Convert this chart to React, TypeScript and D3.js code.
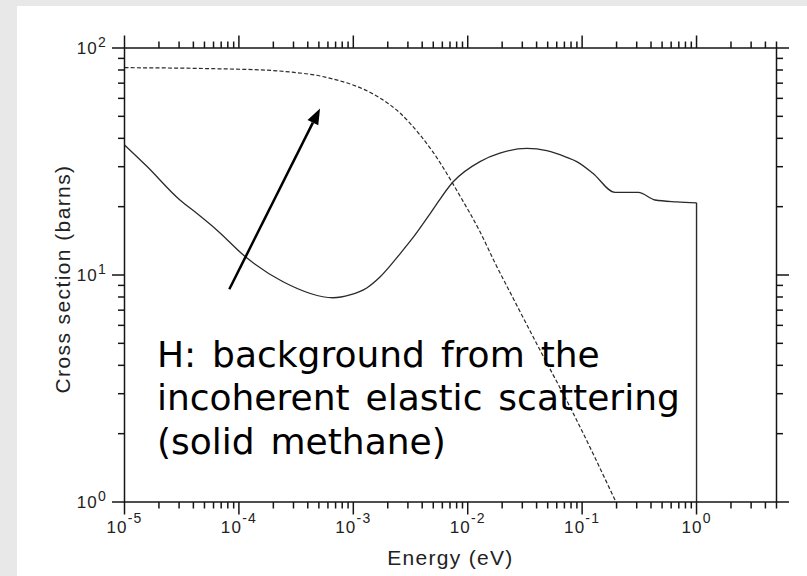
import React from 'react';
import * as d3 from 'd3';

// incoherent elastic (dashed) - energy in eV, cross section in barns
const dashedEnergy = [1e-5, 5.05e-5, 1.95e-4, 2.8e-4, 5.12e-4, 6.65e-4, 9.94e-4, 1.216e-3, 1.712e-3, 2.559e-3, 3.828e-3, 4.973e-3, 7.004e-3, 8.56e-3, 0.01281, 0.01732, 0.02489, 0.04285, 0.08326, 0.1939];
const dashedSigma = [81.9, 81.2, 79.6, 78.4, 75.3, 73.0, 68.7, 66.0, 60.2, 51.7, 41.4, 34.8, 26.5, 22.3, 15.5, 11.3, 7.92, 4.67, 2.47, 1.02];

// total (solid)
const solidEnergy = [1e-5, 1.56e-5, 3.05e-5, 4.28e-5, 6.4e-5, 1.17e-4, 2.43e-4, 6.65e-4, 9.35e-4, 1.31e-3, 1.71e-3, 2.56e-3, 3.32e-3, 4.68e-3, 7.43e-3, 0.0128, 0.0191, 0.0328, 0.0491, 0.0733, 0.0897, 0.124, 0.194, 0.31, 0.434, 0.671, 1.0];
const solidSigma = [37.4, 30.2, 21.4, 18.7, 15.8, 11.9, 9.34, 7.94, 8.17, 8.77, 9.80, 12.4, 14.6, 18.6, 25.7, 31.6, 34.4, 36.1, 35.3, 33.0, 31.6, 28.1, 23.1, 23.1, 21.4, 21.0, 20.8];
// solid drops to the bottom at the cutoff
const cutoffEnergy = 1.0;
const cutoffSigma = 1.0;

const xExponents = [-5, -4, -3, -2, -1, 0];
const yExponents = [0, 1, 2];

const annotationLines = ['H: background from the', 'incoherent elastic scattering', '(solid methane)'];
// arrow in data coords [energy, sigma]
const arrowTail: [number, number] = [8.24e-5, 8.65];
const arrowTip: [number, number] = [5.12e-4, 54.2];
const textAnchor: [number, number] = [1.92e-5, 3.94];

export default function App() {
  const W = 807, H = 576;
  const x = d3.scaleLog().domain([1e-5, 5]).range([124.5, 776.5]);
  const y = d3.scaleLog().domain([1, 100]).range([502, 48]);
  const [x0, x1] = x.range();
  const [y0, y1] = y.range();

  const isMajor = (v: number) => Math.abs(Math.log10(v) - Math.round(Math.log10(v))) < 1e-9;

  const line = d3.line<[number, number]>()
    .x(d => x(d[0]))
    .y(d => y(d[1]))
    .curve(d3.curveMonotoneX);

  const dashedPts = dashedEnergy.map((e, i) => [e, dashedSigma[i]] as [number, number]);
  const solidPts = solidEnergy.map((e, i) => [e, solidSigma[i]] as [number, number]);
  const last = solidPts[solidPts.length - 1];
  const dropPath = d3.line<[number, number]>().x(d => x(d[0])).y(d => y(d[1]))([last, [cutoffEnergy, cutoffSigma]]);

  const xt = x.ticks();
  const yt = y.ticks();
  const big = 12.5, small = 6.5;
  const ink = '#151515';

  // arrow head
  const tx = x(arrowTail[0]), ty = y(arrowTail[1]);
  const hx = x(arrowTip[0]), hy = y(arrowTip[1]);
  const len = Math.hypot(hx - tx, hy - ty);
  const ux = (hx - tx) / len, uy = (hy - ty) / len;
  const headL = 16, headW = 6;
  const bx = hx - ux * headL, by = hy - uy * headL;
  const head = `M${hx},${hy}L${bx - uy * headW},${by + ux * headW}L${bx + uy * headW},${by - ux * headW}Z`;

  const tickFont = 'Liberation Sans, Arial, sans-serif';

  return (
    <svg width={W} height={H} style={{ position: 'absolute', left: 0, top: 0, display: 'block' }}>
      <rect x={0} y={0} width={W} height={H} fill="#e8e8e8" />
      <rect x={17} y={6} width={W - 17} height={H - 6} fill="#ffffff" />
      <defs>
        <clipPath id="plot">
          <rect x={x0} y={y1} width={x1 - x0} height={y0 - y1} />
        </clipPath>
      </defs>

      {/* curves */}
      <g clipPath="url(#plot)" fill="none">
        <path d={line(dashedPts) || ''} stroke="#2a2a2a" strokeWidth={1.2} strokeDasharray="4,2.2" />
        <path d={line(solidPts) || ''} stroke="#2a2a2a" strokeWidth={1.3} />
        <path d={dropPath || ''} stroke="#2a2a2a" strokeWidth={1.4} />
      </g>

      {/* frame */}
      <rect x={x0} y={y1} width={x1 - x0} height={y0 - y1} fill="none" stroke={ink} strokeWidth={1.5} />

      {/* x ticks top and bottom */}
      {xt.map((v, i) => {
        const px = x(v);
        const l = isMajor(v) ? big : small;
        return (
          <g key={'xt' + i} stroke={ink} strokeWidth={1.5}>
            <line x1={px} x2={px} y1={y1} y2={y1 - l} />
            <line x1={px} x2={px} y1={y0} y2={y0 + l} />
          </g>
        );
      })}
      {/* y ticks left and right */}
      {yt.map((v, i) => {
        const py = y(v);
        const l = isMajor(v) ? big : small;
        return (
          <g key={'yt' + i} stroke={ink} strokeWidth={1.5}>
            <line x1={x0} x2={x0 - l} y1={py} y2={py} />
            <line x1={x1} x2={x1 + l} y1={py} y2={py} />
          </g>
        );
      })}

      {/* x tick labels */}
      {xExponents.map(p => (
        <text key={'xl' + p} x={x(Math.pow(10, p))} y={533} textAnchor="middle" fontFamily={tickFont} fontSize={17} fill="#222" letterSpacing={1.2}>
          <tspan>10</tspan>
          <tspan dy={-10} fontSize={14}>{p}</tspan>
        </text>
      ))}
      {/* y tick labels */}
      {yExponents.map(p => (
        <text key={'yl' + p} x={107} y={y(Math.pow(10, p)) + 6} textAnchor="end" fontFamily={tickFont} fontSize={17} fill="#222" letterSpacing={1.2}>
          <tspan>10</tspan>
          <tspan dy={-7.3} fontSize={14}>{p}</tspan>
        </text>
      ))}

      {/* axis titles */}
      <text x={(x0 + x1) / 2} y={565} textAnchor="middle" fontFamily={tickFont} fontSize={21} fill="#222" letterSpacing={1.3}>Energy (eV)</text>
      <text transform={`translate(70,${(y0 + y1) / 2 + 4}) rotate(-90)`} textAnchor="middle" fontFamily={tickFont} fontSize={21} fill="#222" letterSpacing={1.4}>Cross section (barns)</text>

      {/* annotation */}
      <line x1={tx} y1={ty} x2={bx} y2={by} stroke="#000" strokeWidth={2.5} />
      <path d={head} fill="#000" />
      {annotationLines.map((t, i) => (
        <text key={'an' + i} x={x(textAnchor[0])} y={y(textAnchor[1]) + i * 43.4} fontFamily="DejaVu Sans, Verdana, sans-serif" fontSize={36} wordSpacing={4.5} fill="#000">{t}</text>
      ))}
    </svg>
  );
}
